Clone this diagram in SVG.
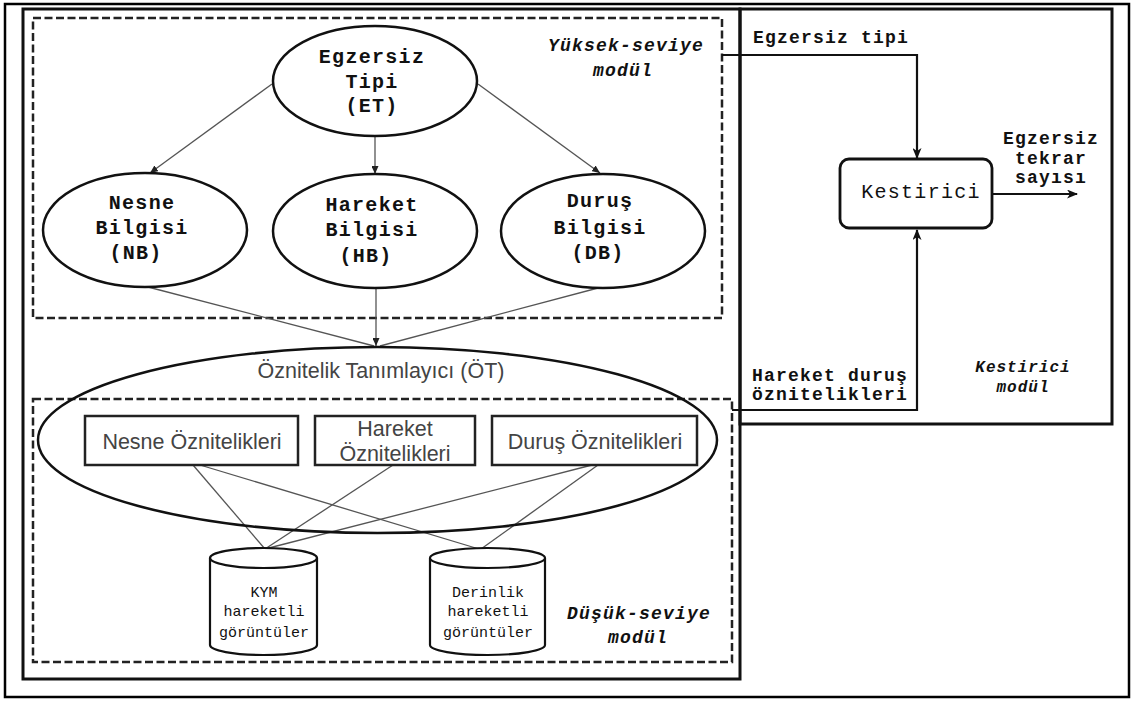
<svg xmlns="http://www.w3.org/2000/svg" width="1133" height="701" viewBox="0 0 1133 701">
<defs>
<marker id="ah" markerWidth="8" markerHeight="7" refX="8" refY="3.5" orient="auto" markerUnits="userSpaceOnUse"><path d="M0,0 L8,3.5 L0,7 z" fill="#222"/></marker>
<marker id="ahb" markerWidth="11" markerHeight="9" refX="10" refY="4.5" orient="auto" markerUnits="userSpaceOnUse"><path d="M0,0 L11,4.5 L0,9 L3,4.5 z" fill="#111"/></marker>
<style>
.frame{fill:none;stroke:#000;stroke-width:2.5}
.box{fill:none;stroke:#111;stroke-width:3}
.dash{fill:none;stroke:#222;stroke-width:2.5;stroke-dasharray:8 3.5}
.ell{fill:#fff;stroke:#111;stroke-width:2.5}
.ot{fill:none;stroke:#111;stroke-width:2.5}
.rect{fill:#fff;stroke:#222;stroke-width:2.5}
.cyl{fill:#fff;stroke:#111;stroke-width:2.2}
.thin{fill:none;stroke:#555;stroke-width:1.3}
.bold{fill:none;stroke:#111;stroke-width:2.2}
.mono{font-family:"Liberation Mono","Courier New",monospace;fill:#111;text-anchor:middle}
.eb{font-size:20px;font-weight:bold;letter-spacing:1.3px}
.kb{font-size:20px;letter-spacing:1.3px}
.lb{font-size:18px;font-weight:bold;letter-spacing:1.2px}
.it{font-size:18px;font-weight:bold;font-style:italic;letter-spacing:1.2px}
.its{font-size:16px;font-weight:bold;font-style:italic;letter-spacing:1px}
.cy{font-size:15px}
.sans{font-family:"Liberation Sans",Arial,sans-serif;fill:#444;text-anchor:middle;font-size:21.5px}
</style>
</defs>
<rect width="1133" height="701" fill="#fff"/>
<g id="frames">
<rect class="frame" x="5" y="4" width="1124" height="693"/>
<rect class="box" x="23" y="9" width="717" height="670"/>
<rect class="box" x="740" y="9" width="372" height="415"/>
<rect class="dash" x="33" y="18" width="689" height="300"/>
<rect class="dash" x="33" y="399" width="699" height="263"/>
</g>
<g id="connectors">
<line class="thin" x1="272" y1="84" x2="150" y2="173" marker-end="url(#ah)"/>
<line class="thin" x1="375" y1="135" x2="375" y2="174" marker-end="url(#ah)"/>
<line class="thin" x1="478" y1="84" x2="600" y2="173" marker-end="url(#ah)"/>
<line class="thin" x1="148" y1="287" x2="374" y2="346"/>
<line class="thin" x1="598" y1="288" x2="380" y2="346"/>
<line class="thin" x1="376" y1="288" x2="376" y2="346" marker-end="url(#ah)"/>
<line class="thin" x1="193" y1="465" x2="265" y2="549"/>
<line class="thin" x1="200" y1="465" x2="479" y2="549"/>
<line class="thin" x1="393" y1="465" x2="265" y2="549"/>
<line class="thin" x1="592" y1="465" x2="265" y2="549"/>
<line class="thin" x1="598" y1="465" x2="481" y2="549"/>
<polyline class="bold" points="722,55 917,55 917,158" marker-end="url(#ahb)"/>
<polyline class="bold" points="732,410 917,410 917,230" marker-end="url(#ahb)"/>
<line class="bold" x1="992" y1="194" x2="1077" y2="194" marker-end="url(#ahb)"/>
</g>
<g id="node-et">
<ellipse class="ell" cx="375" cy="81" rx="102" ry="55"/>
<text class="mono eb" x="372" y="63">Egzersiz</text>
<text class="mono eb" x="372" y="88">Tipi</text>
<text class="mono eb" x="372" y="112">(ET)</text>
</g>
<g id="node-nb">
<ellipse class="ell" cx="145" cy="230" rx="102" ry="57"/>
<text class="mono eb" x="142" y="209">Nesne</text>
<text class="mono eb" x="142" y="234">Bilgisi</text>
<text class="mono eb" x="136" y="259">(NB)</text>
</g>
<g id="node-hb">
<ellipse class="ell" cx="375" cy="231" rx="102" ry="57"/>
<text class="mono eb" x="372" y="211">Hareket</text>
<text class="mono eb" x="372" y="236">Bilgisi</text>
<text class="mono eb" x="366" y="262">(HB)</text>
</g>
<g id="node-db">
<ellipse class="ell" cx="603" cy="231" rx="102" ry="57"/>
<text class="mono eb" x="600" y="207">Duruş</text>
<text class="mono eb" x="600" y="234">Bilgisi</text>
<text class="mono eb" x="598" y="259">(DB)</text>
</g>
<g id="node-ot">
<ellipse class="ot" cx="377.5" cy="440" rx="339.5" ry="93"/>
<text class="sans" x="381" y="378">Öznitelik Tanımlayıcı (ÖT)</text>
</g>
<g id="node-nesne-oz">
<rect class="rect" x="85" y="416" width="213" height="49"/>
<text class="sans" x="192" y="449">Nesne Öznitelikleri</text>
</g>
<g id="node-hareket-oz">
<rect class="rect" x="315" y="416" width="160" height="49"/>
<text class="sans" x="395" y="436">Hareket</text>
<text class="sans" x="395" y="461">Öznitelikleri</text>
</g>
<g id="node-durus-oz">
<rect class="rect" x="492" y="416" width="205" height="49"/>
<text class="sans" x="595" y="449">Duruş Öznitelikleri</text>
</g>
<g id="node-kym">
<path class="cyl" d="M210,558 A53.5,10 0 0,1 317,558 L317,645 A53.5,10 0 0,1 210,645 Z"/>
<path class="cyl" fill="none" d="M210,558 A53.5,10 0 0,0 317,558"/>
<text class="mono cy" x="264" y="597">KYM</text>
<text class="mono cy" x="264" y="616">hareketli</text>
<text class="mono cy" x="264" y="637">görüntüler</text>
</g>
<g id="node-derinlik">
<path class="cyl" d="M430,558 A57.5,10 0 0,1 545,558 L545,645 A57.5,10 0 0,1 430,645 Z"/>
<path class="cyl" fill="none" d="M430,558 A57.5,10 0 0,0 545,558"/>
<text class="mono cy" x="488" y="597">Derinlik</text>
<text class="mono cy" x="488" y="616">hareketli</text>
<text class="mono cy" x="488" y="637">görüntüler</text>
</g>
<g id="node-kestirici">
<rect x="840" y="159" width="152" height="69" rx="9" fill="#fff" stroke="#111" stroke-width="2.8"/>
<text class="mono kb" x="921" y="198">Kestirici</text>
</g>
<g id="labels">
<text class="mono lb" x="831" y="43">Egzersiz tipi</text>
<text class="mono lb" x="1051" y="144">Egzersiz</text>
<text class="mono lb" x="1051" y="164">tekrar</text>
<text class="mono lb" x="1051" y="183">sayısı</text>
<text class="mono lb" x="830" y="381">Hareket duruş</text>
<text class="mono lb" x="830" y="400">öznitelikleri</text>
<text class="mono its" x="1023" y="372">Kestirici</text>
<text class="mono its" x="1023" y="392">modül</text>
<text class="mono it" x="626" y="51">Yüksek-seviye</text>
<text class="mono it" x="623" y="76">modül</text>
<text class="mono it" x="639" y="619">Düşük-seviye</text>
<text class="mono it" x="638" y="643">modül</text>
</g>
</svg>
